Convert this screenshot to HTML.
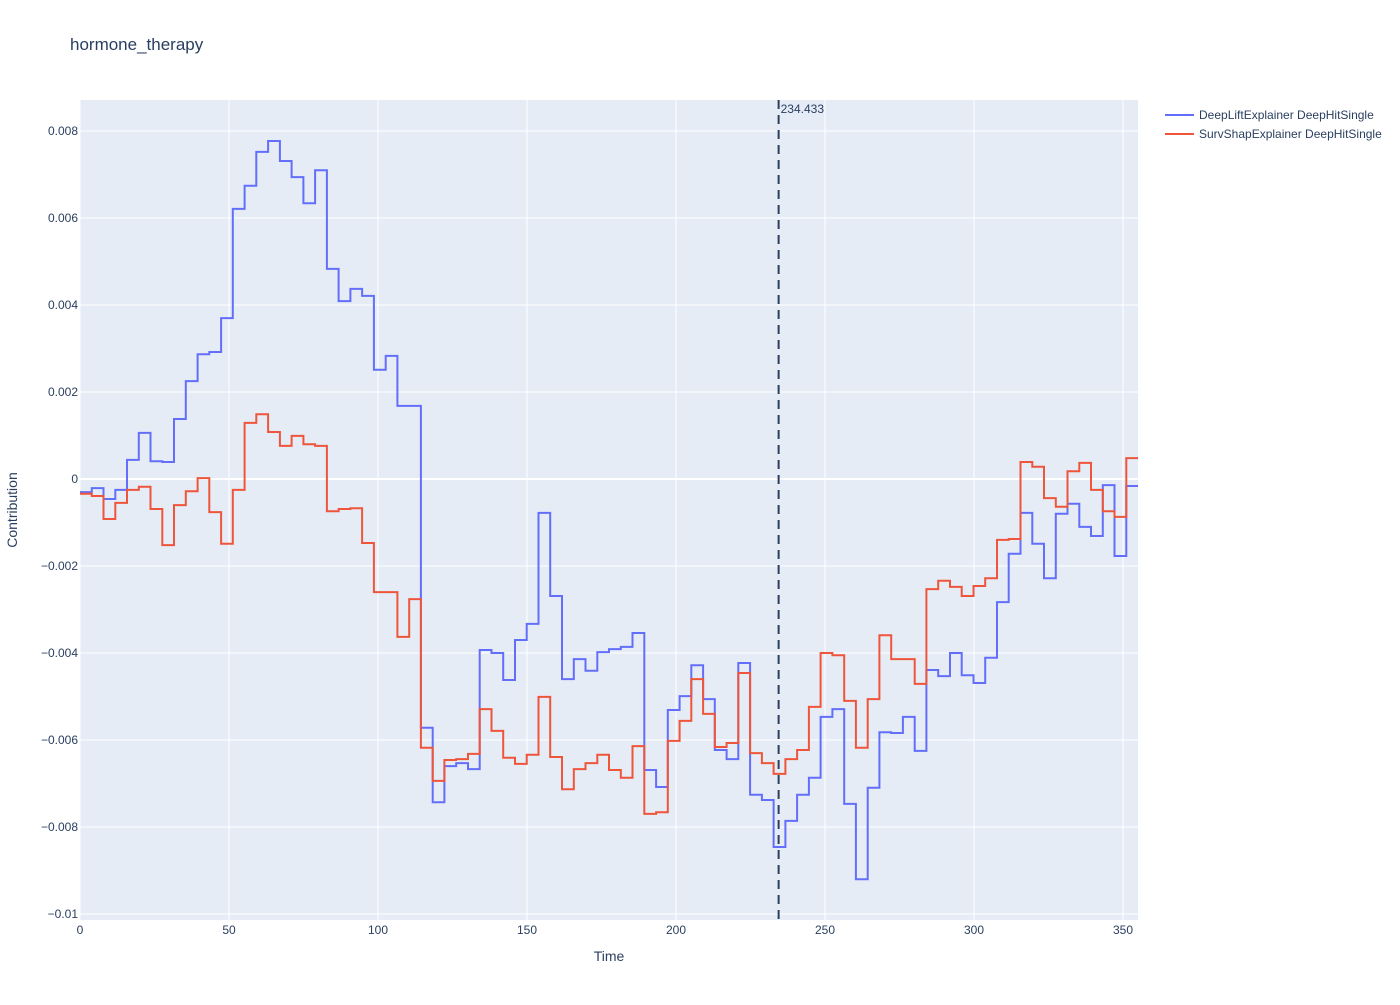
<!DOCTYPE html>
<html><head><meta charset="utf-8"><style>
body{margin:0;background:#fff;font-family:"Liberation Sans",Arial,sans-serif;}
svg text{font-family:"Liberation Sans",Arial,sans-serif;}
</style></head><body>
<svg id="chart" width="1400" height="1000" xmlns="http://www.w3.org/2000/svg">
<rect x="0" y="0" width="1400" height="1000" fill="#fff"/>
<text x="70" y="50" font-size="17" fill="#2a3f5f">hormone_therapy</text>
<rect x="80" y="100" width="1058" height="820" fill="#e5ecf6"/>
<g id="grid"></g><g id="series"></g><g id="axes"></g>
<text x="609" y="961" font-size="14" fill="#2a3f5f" text-anchor="middle">Time</text>
<text transform="translate(17,510) rotate(-90)" font-size="14" fill="#2a3f5f" text-anchor="middle">Contribution</text>
<g>
<g><line x1="1165" y1="115" x2="1194" y2="115" stroke="#636efa" stroke-width="2"/><text x="1199" y="119" font-size="12" fill="#2a3f5f">DeepLiftExplainer DeepHitSingle</text></g>
<g><line x1="1165" y1="134" x2="1194" y2="134" stroke="#ef553b" stroke-width="2"/><text x="1199" y="138" font-size="12" fill="#2a3f5f">SurvShapExplainer DeepHitSingle</text></g>
</g>
</svg>
<script>
const stepWidth = 3.945;
const deepLift = [-0.30,-0.21,-0.46,-0.25,0.44,1.06,0.41,0.39,1.38,2.25,2.87,2.92,3.70,6.21,6.74,7.52,7.77,7.31,6.94,6.34,7.10,4.83,4.09,4.37,4.21,2.51,2.83,1.68,1.68,
-5.72,-7.43,-6.60,-6.53,-6.67,-3.93,-4.00,-4.62,-3.70,-3.33,-0.78,-2.69,-4.60,-4.14,-4.41,-3.98,-3.91,-3.86,-3.54,-6.69,-7.08,-5.31,-4.99,-4.28,-5.06,-6.23,-6.44,-4.23,-7.26,-7.38,
-8.46,-7.86,-7.26,-6.87,-5.47,-5.29,-7.47,-9.20,-7.10,-5.82,-5.84,-5.47,-6.25,-4.39,-4.53,-4.00,-4.51,-4.69,-4.11,-2.83,-1.72,-0.78,-1.49,-2.28,-0.80,-0.57,-1.10,-1.31,-0.14,-1.77,-0.16];
const survShap = [-0.34,-0.39,-0.92,-0.55,-0.25,-0.18,-0.69,-1.52,-0.60,-0.28,0.02,-0.76,-1.49,-0.25,1.29,1.49,1.08,0.76,0.99,0.80,0.76,-0.74,-0.69,-0.67,-1.47,-2.60,-2.60,-3.63,-2.76,
-6.18,-6.94,-6.46,-6.44,-6.32,-5.29,-5.79,-6.41,-6.55,-6.34,-5.01,-6.39,-7.13,-6.67,-6.53,-6.34,-6.69,-6.87,-6.14,-7.70,-7.66,-6.02,-5.56,-4.60,-5.40,-6.16,-6.07,-4.46,-6.30,-6.53,
-6.78,-6.44,-6.23,-5.24,-4.00,-4.05,-5.10,-6.18,-5.06,-3.59,-4.14,-4.14,-4.71,-2.53,-2.34,-2.48,-2.69,-2.46,-2.28,-1.40,-1.38,0.39,0.28,-0.44,-0.64,0.18,0.37,-0.25,-0.74,-0.87,0.48];
const xTicks = [0,50,100,150,200,250,300,350];
const yTicks = [-0.01,-0.008,-0.006,-0.004,-0.002,0,0.002,0.004,0.006,0.008];
const yTickLabels = ["\u22120.01","\u22120.008","\u22120.006","\u22120.004","\u22120.002","0","0.002","0.004","0.006","0.008"];
const markerTime = 234.433;

const NS="http://www.w3.org/2000/svg";
const X0=80,X1=1138,Y0=100,Y1=920,xMin=0,xMax=355.03,yMin=-0.010138,yMax=0.008713;
const sx=t=>X0+(t-xMin)/(xMax-xMin)*(X1-X0);
const sy=v=>Y1-(v-yMin)/(yMax-yMin)*(Y1-Y0);
function mk(tag,attrs,parent){const e=document.createElementNS(NS,tag);for(const k in attrs)e.setAttribute(k,attrs[k]);parent.appendChild(e);return e;}
const grid=document.getElementById('grid'),axes=document.getElementById('axes'),series=document.getElementById('series');
xTicks.forEach(t=>{
  const l=mk('line',{x1:sx(t),x2:sx(t),y1:Y0,y2:Y1,stroke:'#fff','stroke-width':1},grid);
  
  
  const tx=mk('text',{x:sx(t),y:934,'font-size':12,fill:'#2a3f5f','text-anchor':'middle'},axes);
  tx.textContent=t;
  
  
});
yTicks.forEach((v,i)=>{
  const l=mk('line',{x1:X0,x2:X1,y1:sy(v),y2:sy(v),stroke:'#fff','stroke-width':v===0?2:1},grid);
  
  
  const tx=mk('text',{x:78,y:sy(v)+4,'font-size':12,fill:'#2a3f5f','text-anchor':'end'},axes);
  tx.textContent=yTickLabels[i];
  
  
});
function stepPath(vals){
  let d='';
  vals.forEach((v,i)=>{
    const xa=sx(i*stepWidth), xb=sx(Math.min((i+1)*stepWidth,xMax)), y=sy(v/1000);
    d+=(i===0?'M':'L')+xa.toFixed(1)+','+y.toFixed(1)+'L'+xb.toFixed(1)+','+y.toFixed(1);
  });
  return d;
}
const p1=mk('path',{d:stepPath(deepLift),fill:'none',stroke:'#636efa','stroke-width':2,'stroke-linejoin':'miter'},series);


const p2=mk('path',{d:stepPath(survShap),fill:'none',stroke:'#ef553b','stroke-width':2,'stroke-linejoin':'miter'},series);


const vl=mk('line',{x1:sx(markerTime),x2:sx(markerTime),y1:Y0,y2:Y1,stroke:'#2a3f5f','stroke-width':2,'stroke-dasharray':'9,6'},series);


const at=mk('text',{x:sx(markerTime)+2,y:113,'font-size':12,fill:'#2a3f5f'},series);
at.textContent=String(markerTime);


</script>
</body></html>
